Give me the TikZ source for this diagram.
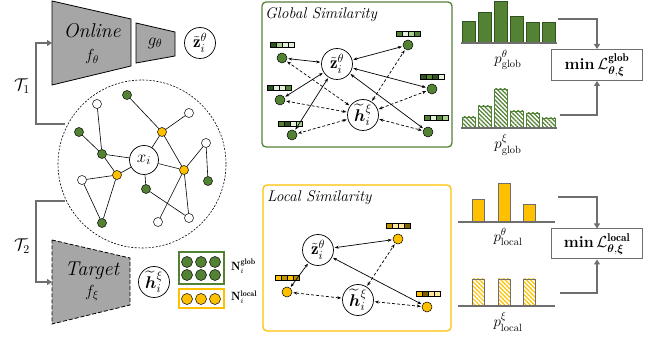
\RequirePackage{fix-cm}
\documentclass[tikz,border=0pt]{standalone}
\usepackage{amsmath,bm}
\usepackage{fontspec}
\usetikzlibrary{arrows.meta,patterns.meta}
\definecolor{G}{HTML}{548235}
\definecolor{Y}{HTML}{FFC000}
\definecolor{AG}{HTML}{6E6E6E}
\definecolor{TR}{HTML}{A6A6A6}
\definecolor{ga}{HTML}{2F5220}
\definecolor{gb}{HTML}{548235}
\definecolor{gc}{HTML}{A9D08E}
\definecolor{gd}{HTML}{E2EFDA}
\definecolor{ya}{HTML}{7F6000}
\definecolor{yb}{HTML}{BF9000}
\definecolor{yc}{HTML}{FFC000}
\definecolor{yd}{HTML}{FFE699}
\newcommand\vecbar[6]{%
  \foreach[count=\k] \c in {#3,#4,#5,#6}{%
    \draw[line width=0.4pt,fill=\c] ({#1-12+(\k-1)*6},{#2-2.5}) rectangle ++(6,5);}}
\begin{document}
\begin{tikzpicture}[x=1pt,y=-1pt,
  gn/.style={circle,draw,fill=G,inner sep=0pt,minimum size=9pt,line width=0.5pt},
  yn/.style={gn,fill=Y},
  wn/.style={gn,fill=white},
  sn/.style={gn,minimum size=10pt},
  syn/.style={sn,fill=Y},
  big/.style={circle,draw,inner sep=0pt,minimum size=31pt,line width=0.7pt,font=\fontsize{17}{19}\selectfont},
  edge/.style={line width=0.6pt},
  sim/.style={{Stealth[length=4pt,width=3pt]}-{Stealth[length=4pt,width=3pt]},line width=0.7pt,shorten >=1pt,shorten <=1pt},
  dsim/.style={sim,dash pattern=on 3pt off 2pt},
  garrow/.style={draw=AG,line width=1.8pt,-{Triangle[length=5pt,width=6pt]}},
  gline/.style={draw=AG,line width=1.8pt},
  trap/.style={fill=TR,draw=black,line width=0.8pt},
  lbl/.style={inner sep=0pt},
  hist/.style={line width=0.6pt},
  base/.style={draw=AG,line width=1.3pt},
  panel/.style={rounded corners=4pt,line width=1.3pt},
  lossbox/.style={draw=AG,line width=1pt,fill=white,minimum width=91pt,minimum height=31pt,inner sep=0pt,font=\fontsize{16}{18}\selectfont},
  nbox/.style={line width=1.2pt,minimum width=45pt,inner sep=0pt},
  nc/.style={circle,draw,inner sep=0pt,minimum size=11pt,line width=0.5pt},
  plbl/.style={lbl,font=\fontsize{15}{17}\selectfont},
  title/.style={lbl,anchor=west,font=\fontsize{15.5}{18}\selectfont\itshape}
]
\useasboundingbox (0,0) rectangle (657,339);

% ---------------- encoders ----------------
\draw[trap] (52,1) -- (131,19) -- (131,66) -- (52,85) -- cycle;
\node[lbl,font=\fontsize{20}{23}\selectfont\itshape] (online) at (92,31) {Online};
\node[lbl,font=\fontsize{16}{18}\selectfont] (fth) at (92,57) {$f_{\theta}$};
\draw[trap] (136,23) -- (175,32) -- (175,56) -- (136,63) -- cycle;
\node[lbl,font=\fontsize{17}{19}\selectfont] (gth) at (155,43) {$g_{\theta}$};
\node[big] (ztop) at (200,43) {$\tilde{\mathbf{z}}_i^{\theta}$};

\draw[trap,dash pattern=on 4pt off 2pt] (52,240) -- (130,258) -- (130,305) -- (52,324) -- cycle;
\node[lbl,font=\fontsize{20}{23}\selectfont\itshape] (target) at (92,271) {Target};
\node[lbl,font=\fontsize{16}{18}\selectfont] (fxi) at (92,293) {$f_{\xi}$};
\node[big] (htop) at (154,282) {$\widetilde{\bm{h}}_i^{\xi}$};

% ---------------- graph ----------------
\node[circle,draw,dash pattern=on 2pt off 1.5pt,line width=0.6pt,minimum size=168pt,inner sep=0pt] (graph) at (142,164) {};
\coordinate (t1s) at (65,124);
\coordinate (t1c) at (36,124);
\coordinate (t1e) at (52,43);
\draw[gline,-{Triangle[length=5pt,width=6pt]}] (t1s) -- (t1c) |- (t1e);
\coordinate (t2s) at (65,201);
\coordinate (t2c) at (36,201);
\coordinate (t2e) at (52,282);
\draw[gline,-{Triangle[length=5pt,width=6pt]}] (t2s) -- (t2c) |- (t2e);
\node[lbl,font=\fontsize{17}{19}\selectfont] (T1) at (22,86) {$\mathcal{T}_1$};
\node[lbl,font=\fontsize{17}{19}\selectfont] (T2) at (22,246) {$\mathcal{T}_2$};

\node[circle,draw,fill=white,inner sep=0pt,minimum size=29pt,line width=0.7pt,font=\fontsize{17}{19}\selectfont] (xi) at (144,160) {$x_i$};
\node[gn] (n1) at (127,95) {};
\node[wn] (n2) at (97,104) {};
\node[gn] (n3) at (79,132) {};
\node[gn] (n4) at (102,154) {};
\node[yn] (n5) at (117,175) {};
\node[wn] (n6) at (82,180) {};
\node[gn] (n7) at (102,223) {};
\node[yn] (n8) at (162,132) {};
\node[wn] (n9) at (189,113) {};
\node[wn] (n10) at (206,143) {};
\node[gn] (n11) at (208,181) {};
\node[yn] (n12) at (184,170) {};
\node[gn] (n13) at (146,189) {};
\node[wn] (n14) at (158,222) {};
\node[wn] (n15) at (189,218) {};
\draw[edge] (n1) -- (n8);
\draw[edge] (n8) -- (n9);
\draw[edge] (n8) -- (xi);
\draw[edge] (n8) -- (n12);
\draw[edge] (n10) -- (n12);
\draw[edge] (n10) -- (n11);
\draw[edge] (xi) -- (n12);
\draw[edge] (n12) -- (n14);
\draw[edge] (n12) -- (n15);
\draw[edge] (n13) -- (xi);
\draw[edge] (n13) -- (n15);
\draw[edge] (n2) -- (n4);
\draw[edge] (n3) -- (n4);
\draw[edge] (n4) -- (xi);
\draw[edge] (n4) -- (n5);
\draw[edge] (n5) -- (xi);
\draw[edge] (n5) -- (n6);
\draw[edge] (n6) -- (n7);
\draw[edge] (n5) -- (n7);

% ---------------- neighbour sets ----------------
\node[nbox,draw=G,minimum height=32pt] (nglob) at (201.5,268) {};
\foreach \x [count=\j] in {187,201,215}{
  \node[nc,fill=G] (ga\j) at (\x,262) {};
  \node[nc,fill=G] (gb\j) at (\x,275) {};
}
\node[nbox,draw=Y,minimum height=19pt] (nloc) at (201.5,298.5) {};
\foreach \x [count=\j] in {187,201,215}{
  \node[nc,fill=Y] (yl\j) at (\x,299) {};
}
\node[lbl,anchor=west,font=\fontsize{12}{14}\selectfont] (nglbl) at (231,266) {$\mathbf{N}_i^{\mathbf{glob}}$};
\node[lbl,anchor=west,font=\fontsize{12}{14}\selectfont] (nllbl) at (231,297) {$\mathbf{N}_i^{\mathbf{local}}$};

% ---------------- global similarity ----------------
\draw[panel,draw=G] (262,2) rectangle (452,147);
\node[title] (gtitle) at (265,15) {Global Similarity};
\node[big] (zg) at (337,64) {$\tilde{\mathbf{z}}_i^{\theta}$};
\node[big] (hg) at (363,115) {$\widetilde{\bm{h}}_i^{\xi}$};
\node[sn] (A) at (282,58) {};
\node[sn] (B) at (280,100) {};
\node[sn] (C) at (292,135) {};
\node[sn] (D) at (408,45) {};
\node[sn] (E) at (432,89) {};
\node[sn] (F) at (428,132) {};
\vecbar{282}{45}{ga}{gc}{gd}{gd}
\vecbar{279}{88}{ga}{gd}{gd}{gb}
\vecbar{290}{124}{gb}{ga}{gd}{gc}
\vecbar{408}{34}{gb}{gd}{gc}{gb}
\vecbar{432}{77}{ga}{gb}{ga}{gd}
\vecbar{436}{118}{gb}{gd}{gb}{gc}
\foreach \n in {A,B,C,D,E,F}{
  \draw[sim] (zg) -- (\n);
  \draw[dsim] (hg) -- (\n);
}

% ---------------- local similarity ----------------
\draw[panel,draw=Y] (263,185) rectangle (451,331);
\node[title] (ltitle) at (267,198) {Local Similarity};
\node[big] (zl) at (318,250) {$\tilde{\mathbf{z}}_i^{\theta}$};
\node[big] (hl) at (358,300) {$\widetilde{\bm{h}}_i^{\xi}$};
\node[syn] (P) at (398,239) {};
\node[syn] (Q) at (287,292) {};
\node[syn] (R) at (427,307) {};
\vecbar{398}{226}{yb}{yd}{yd}{ya}
\vecbar{287}{278}{yc}{yb}{yc}{yb}
\vecbar{428}{294}{yc}{ya}{yd}{yd}
\foreach \n in {P,Q,R}{
  \draw[sim] (zl) -- (\n);
  \draw[dsim] (hl) -- (\n);
}

% ---------------- global histograms ----------------
\foreach \x/\t in {462/21,478/12,494/1,510/16,526/22,542/22}{
  \draw[hist,draw=ga,fill=G] (\x,\t) rectangle ++(13,{43-\t});
}
\draw[base] (461,43) -- (557,43);
\node[plbl] (pgt) at (508,60) {$p^{\theta}_{\mathrm{glob}}$};
\foreach \x/\t in {462/117,478/106,494/89,510/111,526/113,542/118}{
  \draw[hist,draw=G,pattern={Lines[angle=-45,distance=3pt,line width=1.2pt]},pattern color=G] (\x,\t) rectangle ++(13,{128-\t});
}
\draw[base] (461,128) -- (557,128);
\node[plbl] (pgx) at (508,145) {$p^{\xi}_{\mathrm{glob}}$};

\node[lossbox] (lossg) at (597,65) {\textbf{min}\,$\mathcal{L}^{\mathbf{glob}}_{\bm{\theta},\bm{\xi}}$};
\coordinate (ag1) at (558,19);
\coordinate (ag2) at (560,115);
\draw[garrow] (ag1) -| (lossg.north);
\draw[garrow] (ag2) -| (lossg.south);

% ---------------- local histograms ----------------
\foreach \x/\t in {472/199,498/183,523/204}{
  \draw[hist,draw=AG,fill=Y] (\x,\t) rectangle ++(12,{222-\t});
}
\draw[base] (458,222) -- (555,222);
\node[plbl] (plt) at (508,237) {$p^{\theta}_{\mathrm{local}}$};
\foreach \x in {472,498,523}{
  \draw[hist,draw=AG,pattern={Lines[angle=-45,distance=3pt,line width=1.2pt]},pattern color=Y] (\x,279) rectangle ++(12,27);
}
\draw[base] (458,306) -- (555,306);
\node[plbl] (plx) at (508,322) {$p^{\xi}_{\mathrm{local}}$};

\node[lossbox,minimum height=30pt] (lossl) at (597,244) {\textbf{min}\,$\mathcal{L}^{\mathbf{local}}_{\bm{\theta},\bm{\xi}}$};
\coordinate (al1) at (558,197);
\coordinate (al2) at (560,293);
\draw[garrow] (al1) -| (lossl.north);
\draw[garrow] (al2) -| (lossl.south);
\end{tikzpicture}
\end{document}
